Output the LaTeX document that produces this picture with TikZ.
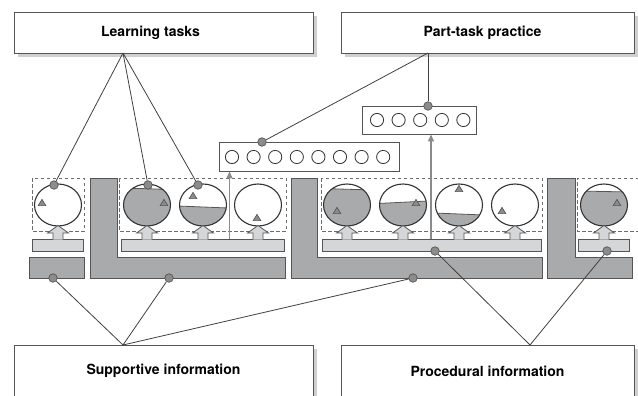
\documentclass[tikz,border=0pt]{standalone}
\usepackage{fontspec}
\setmainfont{TeX Gyre Heros}
\usetikzlibrary{arrows.meta}
\definecolor{dk}{HTML}{A9AAAC}
\definecolor{lt}{HTML}{D5D6D8}
\definecolor{edge}{HTML}{555555}
\definecolor{shade}{HTML}{CFCFCF}
\definecolor{dotc}{HTML}{8C8C8C}
\definecolor{garr}{HTML}{8A8A8A}
\newcommand\mytank[4]{% cx, y left, y right, fill?
  \ifx#4y
  \begin{scope}
    \clip (#1,205) ellipse [x radius=23.5pt, y radius=21pt];
    \fill[dk] ({#1-25},#2) -- ({#1+25},#3) -- ({#1+25},230) -- ({#1-25},230) -- cycle;
    \draw[edge, line width=0.8pt] ({#1-25},#2) -- ({#1+25},#3);
  \end{scope}
  \fi
  \draw[tankline] (#1,205) ellipse [x radius=23.5pt, y radius=21pt];
}
\newcommand\mytri[2]{\draw[tri, shift={(#1,#2)}] (0,-3.6) -- (3.8,2.6) -- (-3.8,2.6) -- cycle;}
\newcommand\myup[1]{\draw[upa, shift={(#1,0)}] (-5,239.6) -- (-5,233) -- (-10.5,233) -- (0,225.5) -- (10.5,233) -- (5,233) -- (5,239.6);}
\begin{document}
\begin{tikzpicture}[x=1pt,y=-1pt,line join=miter,
  titlebox/.style={draw=edge, line width=0.9pt, fill=white, inner sep=0pt,
    font=\bfseries\fontsize{14}{16}\selectfont,
    preaction={fill=shade, transform canvas={xshift=4pt,yshift=-4pt}}},
  dashbox/.style={draw=gray!85!black, line width=0.9pt, dash pattern=on 3.5pt off 2.5pt},
  tankline/.style={draw=black!80, line width=1.1pt},
  tri/.style={fill=dotc, draw=edge, line width=0.7pt},
  upa/.style={fill=lt, draw=edge, line width=0.8pt},
  barlt/.style={fill=lt, draw=edge, line width=0.9pt},
  bardk/.style={fill=dk, draw=edge, line width=0.9pt},
  dotn/.style={circle, fill=dotc, draw=edge, line width=0.7pt, inner sep=0pt, minimum size=8.5pt},
  conn/.style={draw=black!75, line width=0.8pt},
  garrow/.style={draw=garr, line width=1.3pt, -{Triangle[length=7pt,width=6pt]}},
  listbox/.style={draw=edge, line width=0.9pt, fill=white, inner sep=0pt},
  smallc/.style={draw=black!80, line width=0.8pt}
]
\useasboundingbox (0,0) rectangle (638,396);
\clip (0,0) rectangle (638,396);

% title boxes
\node[titlebox, minimum width=299pt, minimum height=41pt] (learn) at (163.5,32.5) {\hspace*{-26pt}Learning tasks};
\node[titlebox, minimum width=293pt, minimum height=41pt] (part) at (487.5,32.5) {\hspace*{-10pt}Part-task practice};
\node[titlebox, minimum width=299pt, minimum height=52pt] (supp) at (163.5,371) {Supportive information};
\node[titlebox, minimum width=293pt, minimum height=52pt] (proc) at (487.5,371) {Procedural information};

% practice boxes
\node[listbox, minimum width=180pt, minimum height=29pt] (big) at (309,156.5) {};
\foreach \i in {0,...,7} \draw[smallc] ({232+\i*21.6},157) circle (6.6pt);
\node[listbox, minimum width=114pt, minimum height=28pt] (small) at (419,120) {};
\foreach \i in {0,...,4} \draw[smallc] ({377+\i*21.6},120) circle (6.6pt);

% dashed boxes
\draw[dashbox] (32,178) rectangle (84,231);
\draw[dashbox] (119,178) rectangle (286,231);
\draw[dashbox] (321,178) rectangle (542,231);
\draw[dashbox] (645,178) -- (577,178) -- (577,231) -- (645,231);

% tanks
\mytank{58}{0}{0}{n}
\mytank{147}{188}{189.5}{y}
\mytank{203}{206}{208}{y}
\mytank{258}{0}{0}{n}
\mytank{347}{188.5}{190}{y}
\mytank{403}{203.5}{201}{y}
\mytank{459}{213}{215}{y}
\mytank{515}{0}{0}{n}
\mytank{604}{191}{192}{y}

% triangles
\mytri{42}{203}
\mytri{164}{203}
\mytri{193}{196}
\mytri{257}{218}
\mytri{337}{211}
\mytri{416}{203}
\mytri{459}{189}
\mytri{502}{211}
\mytri{617}{203}

% light bars
\draw[barlt] (32,239) rectangle (83,251);
\draw[barlt] (121,239) rectangle (284,251);
\draw[barlt] (322,239) rectangle (541,251);
\draw[barlt] (578,239) rectangle (629,251);

% up arrows
\foreach \c in {58,147,203,258,347,403,459,515,604} {\myup{\c}}

% dark shapes
\draw[bardk] (29,257) rectangle (84,278);
\draw[bardk] (90,178) -- (117,178) -- (117,257) -- (285,257) -- (285,278) -- (90,278) -- cycle;
\draw[bardk] (291,178) -- (317,178) -- (317,257) -- (542,257) -- (542,278) -- (291,278) -- cycle;
\draw[bardk] (547,178) -- (575,178) -- (575,257) -- (632,257) -- (632,278) -- (547,278) -- cycle;

% gray arrows to practice boxes
\coordinate (ga1) at (229.5,239);
\coordinate (ga2) at (431,239);
\draw[garrow] (ga1) -- (ga1 |- big.south);
\draw[garrow] (ga2) -- (ga2 |- small.south);

% connector apexes
\coordinate (la) at (123,53);
\coordinate (pa) at (428,53);
\coordinate (sa) at (123,345);
\coordinate (ra) at (530,345);

% dots
\node[dotn] (d1) at (54,185) {};
\node[dotn] (d2) at (148,185) {};
\node[dotn] (d3) at (198,185) {};
\node[dotn] (d4) at (262,142) {};
\node[dotn] (d5) at (428,106) {};
\node[dotn] (s1) at (53,278) {};
\node[dotn] (s2) at (169,278) {};
\node[dotn] (s3) at (413,278) {};
\node[dotn] (p1) at (435,251) {};
\node[dotn] (p2) at (607,251) {};

% connectors
\draw[conn] (la) -- (d1);
\draw[conn] (la) -- (d2);
\draw[conn] (la) -- (d3);
\draw[conn] (pa) -- (d4);
\draw[conn] (pa) -- (d5);
\draw[conn] (sa) -- (s1);
\draw[conn] (sa) -- (s2);
\draw[conn] (sa) -- (s3);
\draw[conn] (ra) -- (p1);
\draw[conn] (ra) -- (p2);
\end{tikzpicture}
\end{document}
